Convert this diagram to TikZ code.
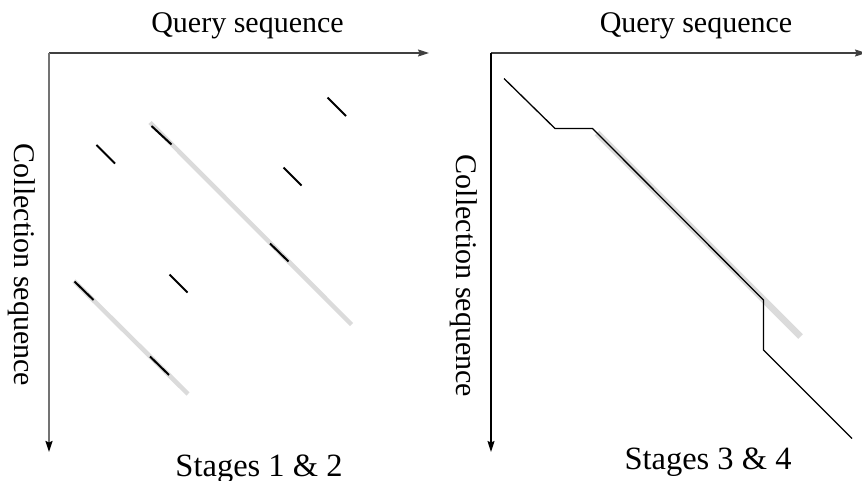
\documentclass[tikz,border=0pt]{standalone}
\usepackage{fontspec}
\setmainfont{Liberation Serif}
\usetikzlibrary{arrows.meta}
\begin{document}
\begin{tikzpicture}[x=1pt,y=-1pt,
  lbl/.style={font=\fontsize{30}{36}\selectfont, inner sep=0pt, anchor=base},
  lblbig/.style={font=\fontsize{32.5}{38}\selectfont, inner sep=0pt, anchor=base},
  axish/.style={draw=black!75, line width=1.2pt, -{Stealth[length=11pt,width=7pt,inset=1.5pt]}},
  axisv/.style={draw=black!55, line width=1.8pt, -{Stealth[length=11pt,width=7pt,inset=1.5pt,black]}},
  axisvr/.style={draw=black, line width=1.2pt, -{Stealth[length=11pt,width=7pt,inset=1.5pt]}},
  hit/.style={draw=black, line width=2pt},
  band/.style={draw=black!14, line width=4.5pt},
  bandr/.style={draw=black!14, line width=6.5pt},
  path/.style={draw=black, line width=1.3pt, line join=miter}]
\useasboundingbox (0,0) rectangle (862,481);

% ---------- left panel ----------
\coordinate (LO) at (49,53);
\coordinate (LX) at (429,53);
\coordinate (LY) at (49,452);
\draw[axish] (LO) -- (LX);
\draw[axisv] (LO) -- (LY);
\node[lbl] (lq) at (247.5,33) {Query sequence};
\node[lbl, rotate=-90] (lc) at (14,265) {Collection sequence};
\node[lblbig] (ls) at (259,476) {Stages 1 \& 2};

% gray bands (stage 2 extension)
\coordinate (b1s) at (150,122.5);
\coordinate (b1e) at (351.5,324.5);
\coordinate (b2s) at (74,281);
\coordinate (b2e) at (188,394);
\draw[band] (b1s) -- (b1e);
\draw[band] (b2s) -- (b2e);

% hits
\coordinate (h1a) at (96.5,145);   \coordinate (h1b) at (115,163.5);
\coordinate (h2a) at (151.5,126);  \coordinate (h2b) at (171.5,144.5);
\coordinate (h3a) at (270,243.5);  \coordinate (h3b) at (288.5,261.5);
\coordinate (h4a) at (327.5,97.5); \coordinate (h4b) at (346,116);
\coordinate (h5a) at (283.5,167.5);\coordinate (h5b) at (301.5,185.5);
\coordinate (h6a) at (169.5,274.5);\coordinate (h6b) at (187.5,292.5);
\coordinate (h7a) at (74.5,281.5); \coordinate (h7b) at (93.5,300);
\coordinate (h8a) at (150,356.5);  \coordinate (h8b) at (169,375);
\foreach \i in {1,...,8} \draw[hit] (h\i a) -- (h\i b);

% ---------- right panel ----------
\coordinate (RO) at (491,53);
\coordinate (RX) at (866,53);
\coordinate (RY) at (491,452);
\draw[axish] (RO) -- (RX);
\draw[axisvr] (RO) -- (RY);
\node[lbl] (rq) at (696,33) {Query sequence};
\node[lbl, rotate=-90] (rc) at (456,276) {Collection sequence};
\node[lblbig] (rs) at (708,469) {Stages 3 \& 4};

\coordinate (g1) at (597,133);
\coordinate (g2) at (800.5,336.5);
\draw[bandr] (g1) -- (g2);

\coordinate (p1) at (504,78.5);
\coordinate (p2) at (555,128.5);
\coordinate (p3) at (592.5,128.5);
\coordinate (p4) at (763.5,300);
\coordinate (p5) at (763.5,350);
\coordinate (p6) at (852,438.5);
\draw[path] (p1) -- (p2) -- (p3) -- (p4) -- (p5) -- (p6);
\end{tikzpicture}
\end{document}
